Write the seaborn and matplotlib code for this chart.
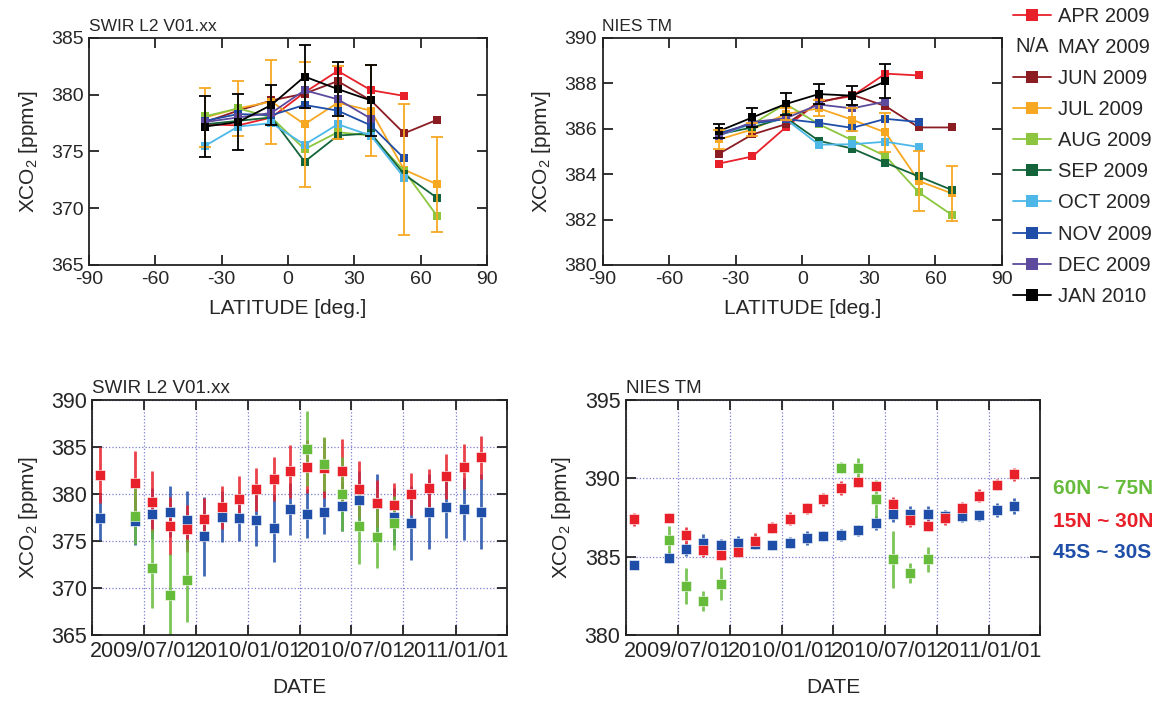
import numpy as np
import pandas as pd
import matplotlib
matplotlib.use("Agg")
import matplotlib.pyplot as plt
import matplotlib.dates as mdates
import matplotlib.text as mtext
from matplotlib.legend_handler import HandlerBase
from matplotlib.lines import Line2D
from matplotlib.ticker import FuncFormatter, MultipleLocator
import seaborn as sns

sns.set_style("ticks")
plt.rcParams['font.family'] = ['Liberation Sans', 'DejaVu Sans']
plt.rcParams['mathtext.fontset'] = 'custom'
plt.rcParams['mathtext.rm'] = 'Liberation Sans'
plt.rcParams['axes.unicode_minus'] = False

nan = np.nan
# ---------------- top panels: latitude profiles ----------------
lat = [-37.5, -22.5, -7.5, 7.5, 22.5, 37.5, 52.5, 67.5]
months = ["APR 2009", "JUN 2009", "JUL 2009", "AUG 2009", "SEP 2009",
          "OCT 2009", "NOV 2009", "DEC 2009", "JAN 2010"]
month_colors = ["#e8202a", "#8b1c22", "#f7a823", "#8cc63e", "#13643a",
                "#4db8e8", "#1f4ea8", "#5b4a9e", "#000000"]

swir_apr = [377.4, 377.3, 378.0, 380.2, 382.1, 380.4, 379.9, nan]
swir_jun = [377.6, 378.6, 379.5, 380.1, 381.2, 379.5, 376.6, 377.8]
swir_jul = [378.0, 378.8, 379.4, 377.4, 379.3, 378.6, 373.4, 372.1]
swir_jul_err = [2.6, 2.4, 3.7, 5.5, 3.2, 4.0, 5.8, 4.2]
swir_aug = [378.1, 378.8, 378.0, 375.2, 376.7, 376.4, 373.3, 369.3]
swir_sep = [377.4, 377.7, 378.0, 374.1, 376.4, 376.6, 373.0, 370.9]
swir_oct = [375.5, 377.2, 377.5, 375.6, 377.4, 376.4, 372.7, nan]
swir_nov = [377.7, 378.3, 378.2, 379.1, 378.6, 377.3, 374.4, nan]
swir_dec = [377.6, 378.0, 378.4, 380.4, 379.6, 377.9, nan, nan]
swir_jan = [377.2, 377.6, 379.1, 381.6, 380.5, 379.5, nan, nan]
swir_jan_err = [2.7, 2.5, 1.8, 2.8, 2.4, 3.1, nan, nan]

nies_apr = [384.47, 384.78, 386.06, 387.2, 387.44, 388.43, 388.35, nan]
nies_jun = [384.9, 385.75, 386.2, 387.16, 387.5, 387.0, 386.06, 386.06]
nies_jul = [385.53, 385.97, 386.65, 386.9, 386.4, 385.84, 383.7, 383.15]
nies_jul_err = [0.4, 0.3, 0.25, 0.35, 0.5, 0.85, 1.3, 1.2]
nies_aug = [385.8, 386.2, 387.1, 386.2, 385.5, 384.8, 383.2, 382.2]
nies_sep = [385.76, 386.06, 386.5, 385.47, 385.13, 384.5, 383.9, 383.3]
nies_oct = [385.7, 386.24, 386.43, 385.3, 385.32, 385.43, 385.2, nan]
nies_nov = [385.8, 386.24, 386.43, 386.26, 386.04, 386.44, 386.3, nan]
nies_dec = [385.7, 386.3, 386.46, 387.07, 386.9, 387.2, nan, nan]
nies_jan = [385.9, 386.5, 387.09, 387.53, 387.46, 388.09, nan, nan]
nies_jan_err = [0.3, 0.4, 0.5, 0.45, 0.43, 0.75, nan, nan]

# ---------------- bottom panels: time series ----------------
dates = ["2009-04-15", "2009-06-15", "2009-07-15", "2009-08-15", "2009-09-15",
         "2009-10-15", "2009-11-15", "2009-12-15", "2010-01-15", "2010-02-15",
         "2010-03-15", "2010-04-15", "2010-05-15", "2010-06-15", "2010-07-15",
         "2010-08-15", "2010-09-15", "2010-10-15", "2010-11-15", "2010-12-15",
         "2011-01-15", "2011-02-15"]
dates_60n = ["2009-06-15", "2009-07-15", "2009-08-15", "2009-09-15",
             "2010-04-15", "2010-05-15", "2010-06-15", "2010-07-15",
             "2010-08-15", "2010-09-15"]
region_labels = ["60N ~ 75N", "15N ~ 30N", "45S ~ 30S"]
region_colors = ["#66bb3a", "#e8202a", "#1f4ea8"]

swir_15n = [382.05, 381.2, 379.2, 376.6, 376.3, 377.3, 378.6, 379.5, 380.5, 381.6,
            382.4, 382.9, 382.8, 382.4, 380.5, 379.0, 378.8, 380.0, 380.6, 381.9,
            382.9, 383.9]
swir_15n_err = [3.0, 3.4, 3.2, 3.1, 2.5, 2.3, 2.3, 2.4, 2.3, 2.3, 2.8, 2.8, 3.2, 3.4,
                3.0, 2.5, 2.4, 2.2, 2.1, 2.4, 2.4, 2.3]
swir_45s = [377.5, 377.1, 377.9, 378.1, 377.2, 375.5, 377.6, 377.5, 377.2, 376.4,
            378.4, 377.9, 378.1, 378.7, 379.4, 379.0, 377.6, 376.9, 378.1, 378.6,
            378.4, 378.1]
swir_45s_err = [2.4, 2.5, 2.7, 2.7, 3.1, 4.2, 2.7, 2.5, 2.7, 3.6, 2.8, 2.6, 2.4, 2.6,
                3.0, 3.1, 3.0, 3.9, 4.0, 3.3, 3.3, 4.0]
swir_60n = [377.7, 372.1, 369.3, 370.8, 384.8, 383.2, 380.0, 376.6, 375.4, 376.9]
swir_60n_err = [3.0, 4.2, 4.3, 4.4, 4.0, 2.9, 3.9, 4.0, 3.3, 2.9]

nies_15n = [387.38, 387.49, 386.36, 385.4, 385.1, 385.3, 386.0, 386.85, 387.43, 388.09,
            388.66, 389.36, 389.77, 389.5, 388.38, 387.32, 386.96, 387.45, 388.1, 388.9,
            389.6, 390.26]
nies_15n_err = [0.4, 0.3, 0.55, 0.4, 0.3, 0.3, 0.5, 0.35, 0.4, 0.35, 0.4, 0.45, 0.35,
                0.3, 0.45, 0.4, 0.35, 0.4, 0.4, 0.4, 0.35, 0.4]
nies_45s = [384.45, 384.94, 385.47, 385.85, 385.72, 385.85, 385.79, 385.72, 385.89,
            386.17, 386.32, 386.38, 386.7, 387.13, 387.74, 387.74, 387.74, 387.6, 387.6,
            387.64, 388.0, 388.23]
nies_45s_err = [0.25, 0.35, 0.4, 0.6, 0.4, 0.45, 0.3, 0.3, 0.35, 0.45, 0.35, 0.4, 0.35,
                0.45, 0.55, 0.5, 0.5, 0.35, 0.4, 0.35, 0.45, 0.5]
nies_60n = [386.06, 383.13, 382.17, 383.28, 390.68, 390.64, 388.7, 384.83, 383.94, 384.83]
nies_60n_err = [0.9, 1.15, 0.65, 1.05, 0.35, 0.65, 1.2, 1.8, 0.65, 0.8]

W, H = 1165, 704
fig = plt.figure(figsize=(W / 100, H / 100), dpi=100)


def rect(l, t, r, b):
    return [l / W, 1 - b / H, (r - l) / W, (b - t) / H]


ax_tl = fig.add_axes(rect(89, 38, 487, 265))
ax_tr = fig.add_axes(rect(602.5, 38, 1002, 265))
ax_bl = fig.add_axes(rect(92.3, 400, 506.7, 635))
ax_br = fig.add_axes(rect(626, 400, 1040, 635))

ylab = r"XCO$_\mathregular{2}$ [ppmv]"


def style_axes(ax, labelsize):
    ax.tick_params(direction='in', length=7, width=1.3, top=True, right=True,
                   labelsize=labelsize, color='#222222', pad=4)
    for s in ax.spines.values():
        s.set_linewidth(1.3)
        s.set_color('#222222')


def lat_panel(ax, series, jul_err, jan_err, ylim, ystep, title):
    rows = []
    for m, vals in zip(months, series):
        for la, v in zip(lat, vals):
            if not np.isnan(v):
                rows.append((m, la, v))
    df = pd.DataFrame(rows, columns=["month", "lat", "xco2"])
    sns.lineplot(data=df, x="lat", y="xco2", hue="month", hue_order=months,
                 palette=month_colors, marker="s", markersize=6, markeredgewidth=0,
                 linewidth=1.3, estimator=None, sort=False, legend=False, ax=ax)
    for vals, err, col in [(series[2], jul_err, month_colors[2]),
                           (series[8], jan_err, month_colors[8])]:
        ax.errorbar(lat, vals, yerr=err, fmt='none', ecolor=col, elinewidth=1.3,
                    capsize=4.5, capthick=1.3, zorder=3)
    ax.set_xlim(-90, 90)
    ax.xaxis.set_major_locator(MultipleLocator(30))
    ax.set_ylim(*ylim)
    ax.yaxis.set_major_locator(MultipleLocator(ystep))
    ax.set_xlabel("LATITUDE [deg.]", fontsize=15, labelpad=8)
    ax.set_ylabel(ylab, fontsize=15, labelpad=8)
    ax.set_title(title, loc='left', fontsize=12.5, pad=5)
    style_axes(ax, 14)


lat_panel(ax_tl, [swir_apr, swir_jun, swir_jul, swir_aug, swir_sep, swir_oct,
                  swir_nov, swir_dec, swir_jan], swir_jul_err, swir_jan_err,
          (365, 385), 5, "SWIR L2 V01.xx")
lat_panel(ax_tr, [nies_apr, nies_jun, nies_jul, nies_aug, nies_sep, nies_oct,
                  nies_nov, nies_dec, nies_jan], nies_jul_err, nies_jan_err,
          (380, 390), 2, "NIES TM")


def date_fmt(x, pos):
    d = mdates.num2date(x)
    return d.strftime('%Y/%m/%d') if d.month in (1, 7) else ''


def time_panel(ax, s60, e60, s15, e15, s45, e45, ylim, title):
    t_all = pd.to_datetime(dates)
    t_60 = pd.to_datetime(dates_60n)
    for t, v, e, col in [(t_all, s45, e45, region_colors[2]),
                         (t_all, s15, e15, region_colors[1]),
                         (t_60, s60, e60, region_colors[0])]:
        ax.errorbar(t, v, yerr=e, fmt='none', ecolor=col, elinewidth=2.0,
                    alpha=0.85, zorder=2)
        sns.scatterplot(x=t, y=v, marker='s', s=42, color=col, edgecolor='#ffffff',
                        linewidth=0.4, ax=ax, zorder=3)
    ax.set_xlim(pd.Timestamp("2009-04-01"), pd.Timestamp("2011-04-01"))
    ax.xaxis.set_major_locator(mdates.MonthLocator(bymonth=[1, 4, 7, 10]))
    ax.xaxis.set_major_formatter(FuncFormatter(date_fmt))
    ax.set_ylim(*ylim)
    ax.yaxis.set_major_locator(MultipleLocator(5))
    ax.grid(True, linestyle=':', color='#7f7fd0', linewidth=0.9)
    ax.set_axisbelow(True)
    ax.set_xlabel("DATE", fontsize=15, labelpad=12)
    ax.set_ylabel(ylab, fontsize=15, labelpad=8)
    ax.set_title(title, loc='left', fontsize=13.5, pad=5)
    style_axes(ax, 15.5)


time_panel(ax_bl, swir_60n, swir_60n_err, swir_15n, swir_15n_err, swir_45s,
           swir_45s_err, (365, 390), "SWIR L2 V01.xx")
time_panel(ax_br, nies_60n, nies_60n_err, nies_15n, nies_15n_err, nies_45s,
           nies_45s_err, (380, 395), "NIES TM")

# ---------------- legends ----------------


class NAMarker:
    pass


class NAHandler(HandlerBase):
    def create_artists(self, legend, orig_handle, xdescent, ydescent, width,
                       height, fontsize, trans):
        t = mtext.Text(x=width / 2 - xdescent, y=height / 2 - ydescent, text="N/A",
                       ha='center', va='center', fontsize=fontsize,
                       fontfamily='Liberation Sans', transform=trans)
        return [t]


handles, labels = [], []
for i, (m, c) in enumerate(zip(months, month_colors)):
    handles.append(Line2D([], [], color=c, marker='s', markersize=9,
                          markeredgewidth=0, linewidth=1.3))
    labels.append(m)
    if i == 0:
        handles.append(NAMarker())
        labels.append("MAY 2009")
fig.legend(handles, labels, loc='upper left', bbox_to_anchor=(1013 / W, 1 - 7 / H),
           frameon=False, fontsize=14.5, handlelength=1.9, handletextpad=0.35,
           labelspacing=0.6, borderpad=0, borderaxespad=0,
           handler_map={NAMarker: NAHandler()})

for lbl, col, yy in zip(region_labels, region_colors, [488, 521.5, 553]):
    fig.text(1053 / W, 1 - yy / H, lbl, color=col, fontsize=15, fontweight='bold',
             va='center', ha='left')

fig.savefig("out.png", dpi=100)
